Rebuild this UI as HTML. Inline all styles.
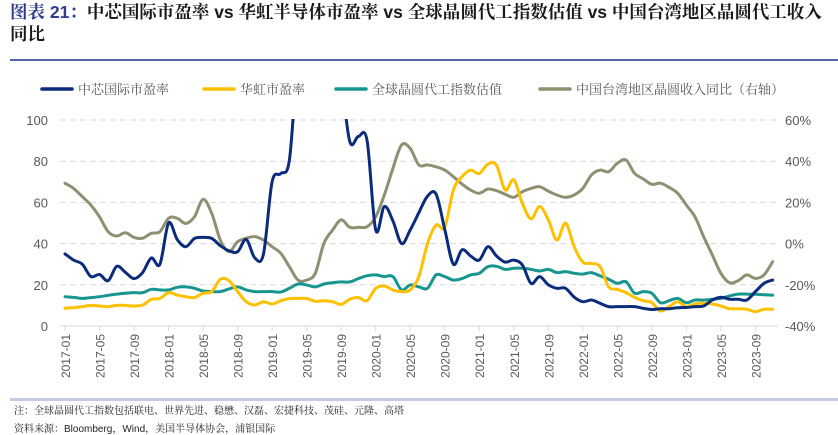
<!DOCTYPE html>
<html><head><meta charset="utf-8">
<style>
html,body{margin:0;padding:0;background:#fff;}
body{width:838px;height:429px;overflow:hidden;position:relative;font-family:"Liberation Sans","Noto Sans CJK SC",sans-serif;}
.title{position:absolute;left:10px;top:1px;width:826px;font-size:17.5px;font-weight:bold;color:#1a1a1a;line-height:22px;font-family:"Liberation Sans","Noto Serif CJK SC","Noto Sans CJK SC",sans-serif;}
.title .num{color:#2e3d8f;}
.rule{position:absolute;left:10px;width:828px;height:2px;background:#5566a6;}
.note{position:absolute;left:14px;font-size:10px;color:#222;font-family:"Liberation Sans","Noto Serif CJK SC",sans-serif;}
</style></head><body>
<div class="title"><span class="num">图表 21：</span>中芯国际市盈率 vs 华虹半导体市盈率 vs 全球晶圆代工指数估值 vs 中国台湾地区晶圆代工收入同比</div>
<div class="rule" style="top:59px"></div>
<svg id="chart" width="838" height="429" style="position:absolute;left:0;top:0"></svg>
<div class="rule" style="top:398px;background:#c5cae0;height:3px"></div>
<div class="note" style="top:402px">注：全球晶圆代工指数包括联电、世界先进、稳懋、汉磊、宏捷科技、茂硅、元隆、高塔</div>
<div class="note" style="top:420px">资料来源：Bloomberg，Wind，美国半导体协会，浦银国际</div>
<script>
const xTickLabels=["2017-01","2017-05","2017-09","2018-01","2018-05","2018-09","2019-01","2019-05","2019-09","2020-01","2020-05","2020-09","2021-01","2021-05","2021-09","2022-01","2022-05","2022-09","2023-01","2023-05","2023-09"];
const leftTicks=[0,20,40,60,80,100];
const rightTicks=[-40,-20,0,20,40,60];
const smic=[35,32,30,24,25,22,29,26,23,26,33,30,50,42,38.5,42.5,43,42.5,39,36.5,36,42,33,35,70,74,80.6,130,140,150,150,140,120,89.5,92,90,46.6,58,51,40,46.6,55,63,64,47,30,37,34,32,38.5,34,31,32,29.6,20.7,24,20,18.3,18.3,14,11.8,12.6,11,9.4,9.4,9.4,9.4,8.6,8,8.4,8.4,8.9,9,9.4,9.7,12.6,14,13,13,12.6,16.7,20.7,22.3];
const huahong=[8.6,8.9,9.4,10,9.7,9.4,10,10,9.7,10.2,12.9,13.4,16.2,15,14.2,13.8,15.9,16.7,22.7,22,16.7,11.8,10.2,11.8,10.7,12.3,13.3,13.4,13.4,12,12.3,11.8,10.5,13,13.8,12.3,18.3,19.4,17.5,16.7,17.5,24,40,49,48,66,72.5,75.7,74,78.6,78,66,71,59.5,52,58,51.5,41.7,50,38.5,31,30.4,28.8,19,17.8,16.2,13.9,12.3,11.3,7.3,9.4,11.8,9.4,10.7,11,10.7,9.7,8.4,8.4,8.1,7,8.1,8.1];
const foundry=[14.2,13.9,13.4,13.8,14.2,14.9,15.5,15.9,16.2,16.2,17.8,17.5,17.5,18.8,19,18.3,17,16.7,16.7,18,19,17.5,16.7,16.7,16.7,16.5,18.3,20.4,19.9,19,20.4,21,21.4,21.4,23,24.4,24.8,24,24,17.5,19.9,19,18.3,24.8,24,22.3,23,24.8,25.6,28.8,29,27.5,28,28,27.5,26.7,27.5,25.9,26.4,25.6,25.2,25.9,24.3,22.7,20.7,21.5,15.9,16.7,15.9,11.3,12.3,13.4,11.3,12.6,12.6,13,13.4,14.6,15.5,15.5,15.4,15.2,15];
const twRevYoY=[29.3,26.8,22.8,18.7,13,5.8,3.7,5.3,3,2.6,5,5.8,12.3,12.3,9.8,13,21.5,14.7,1.7,-3.9,0.9,2.6,3.4,1.7,-1.5,-4.7,-11.2,-17.7,-17.7,-14.4,0.1,6.5,11.5,7.9,7.9,8.2,13,23.6,36.5,47.9,46.2,38.2,38.2,37.3,35.7,32.5,28.9,26,24.4,26.5,25.7,24,22.5,25.2,26.8,27.6,25.5,23.6,22.5,23.6,26.8,33.3,35.7,34.9,39,40.6,34.1,31.4,28.8,29.3,27.3,24.4,18.7,13,3.4,-5.5,-14.4,-19,-18,-15.2,-16.9,-15.2,-8.8];
const legendLabels=["中芯国际市盈率","华虹市盈率","全球晶圆代工指数估值","中国台湾地区晶圆收入同比（右轴）"];

const NS="http://www.w3.org/2000/svg";
const svg=document.getElementById('chart');
const X0=65,DX=8.63,YT=120,YB=326;
const xs=i=>X0+i*DX;
const yl=v=>YB-(v/100)*(YB-YT);
const yr=v=>YB-((v+40)/100)*(YB-YT);
function mk(tag,attrs,parent){const e=document.createElementNS(NS,tag);for(const k in attrs)e.setAttribute(k,attrs[k]);(parent||svg).appendChild(e);return e;}
const defs=mk('defs',{});
const cp=mk('clipPath',{id:'plotclip'},defs);
mk('rect',{x:55,y:YT-1,width:730,height:YB-YT+10},cp);
leftTicks.forEach((v,k)=>{
  if(v>0){const g=mk('line',{x1:60,x2:778,y1:yl(v),y2:yl(v),stroke:'#d9d9d9','stroke-width':1,'stroke-dasharray':'6,4'});
  
  }
  const t=mk('text',{x:48,y:yl(v)+5,'text-anchor':'end','font-size':13,fill:'#595959','font-family':'Liberation Sans, sans-serif'});
  t.textContent=v;
  
  
});
rightTicks.forEach(v=>{
  const t=mk('text',{x:785,y:yr(v)+5,'text-anchor':'start','font-size':13,fill:'#595959','font-family':'Liberation Sans, sans-serif'});
  t.textContent=v+'%';
  
  
});
const ax=mk('line',{x1:60,x2:778,y1:YB,y2:YB,stroke:'#d9d9d9','stroke-width':1});


xTickLabels.forEach((lab,k)=>{
  const x=xs(k*4);
  const tk=mk('line',{x1:x,x2:x,y1:YB,y2:YB+5,stroke:'#d9d9d9'});
  
  
  const t=mk('text',{x:0,y:0,'text-anchor':'end','font-size':12,fill:'#595959','font-family':'Liberation Sans, sans-serif',transform:`translate(${x+5},${YB+8}) rotate(-90)`});
  t.textContent=lab;
  
  
});
function line(data,yf,color,name){
  const P=data.map((v,i)=>[xs(i),yf(v)]);
  let d='M'+P[0][0].toFixed(1)+','+P[0][1].toFixed(1);
  for(let i=0;i<P.length-1;i++){
    const p0=P[Math.max(0,i-1)],p1=P[i],p2=P[i+1],p3=P[Math.min(P.length-1,i+2)];
    const c1=[p1[0]+(p2[0]-p0[0])/6,p1[1]+(p2[1]-p0[1])/6];
    const c2=[p2[0]-(p3[0]-p1[0])/6,p2[1]-(p3[1]-p1[1])/6];
    d+='C'+c1.map(n=>n.toFixed(1)).join(',')+' '+c2.map(n=>n.toFixed(1)).join(',')+' '+p2[0].toFixed(1)+','+p2[1].toFixed(1);
  }
  const p=mk('path',{d:d,fill:'none',stroke:color,'stroke-width':3,'stroke-linejoin':'round','stroke-linecap':'round','clip-path':'url(#plotclip)'});
  
  
}
line(twRevYoY,yr,'#8f8f72','series-taiwan-revenue-yoy');
line(foundry,yl,'#17968f','series-foundry-index-pe');
line(huahong,yl,'#ffc000','series-huahong-pe');
line(smic,yl,'#0b2c7a','series-smic-pe');
const colors=['#0b2c7a','#ffc000','#17968f','#8f8f72'];
const lx=[42,204,336,540];
legendLabels.forEach((lab,k)=>{
  const l=mk('line',{x1:lx[k],x2:lx[k]+30,y1:89,y2:89,stroke:colors[k],'stroke-width':3.5,'stroke-linecap':'round'});
  
  
  const t=mk('text',{x:lx[k]+36,y:94,'font-size':13,fill:'#595959','font-family':'Liberation Sans, Noto Serif CJK SC, sans-serif'});
  t.textContent=lab;
  
  
});
</script>
</body></html>
